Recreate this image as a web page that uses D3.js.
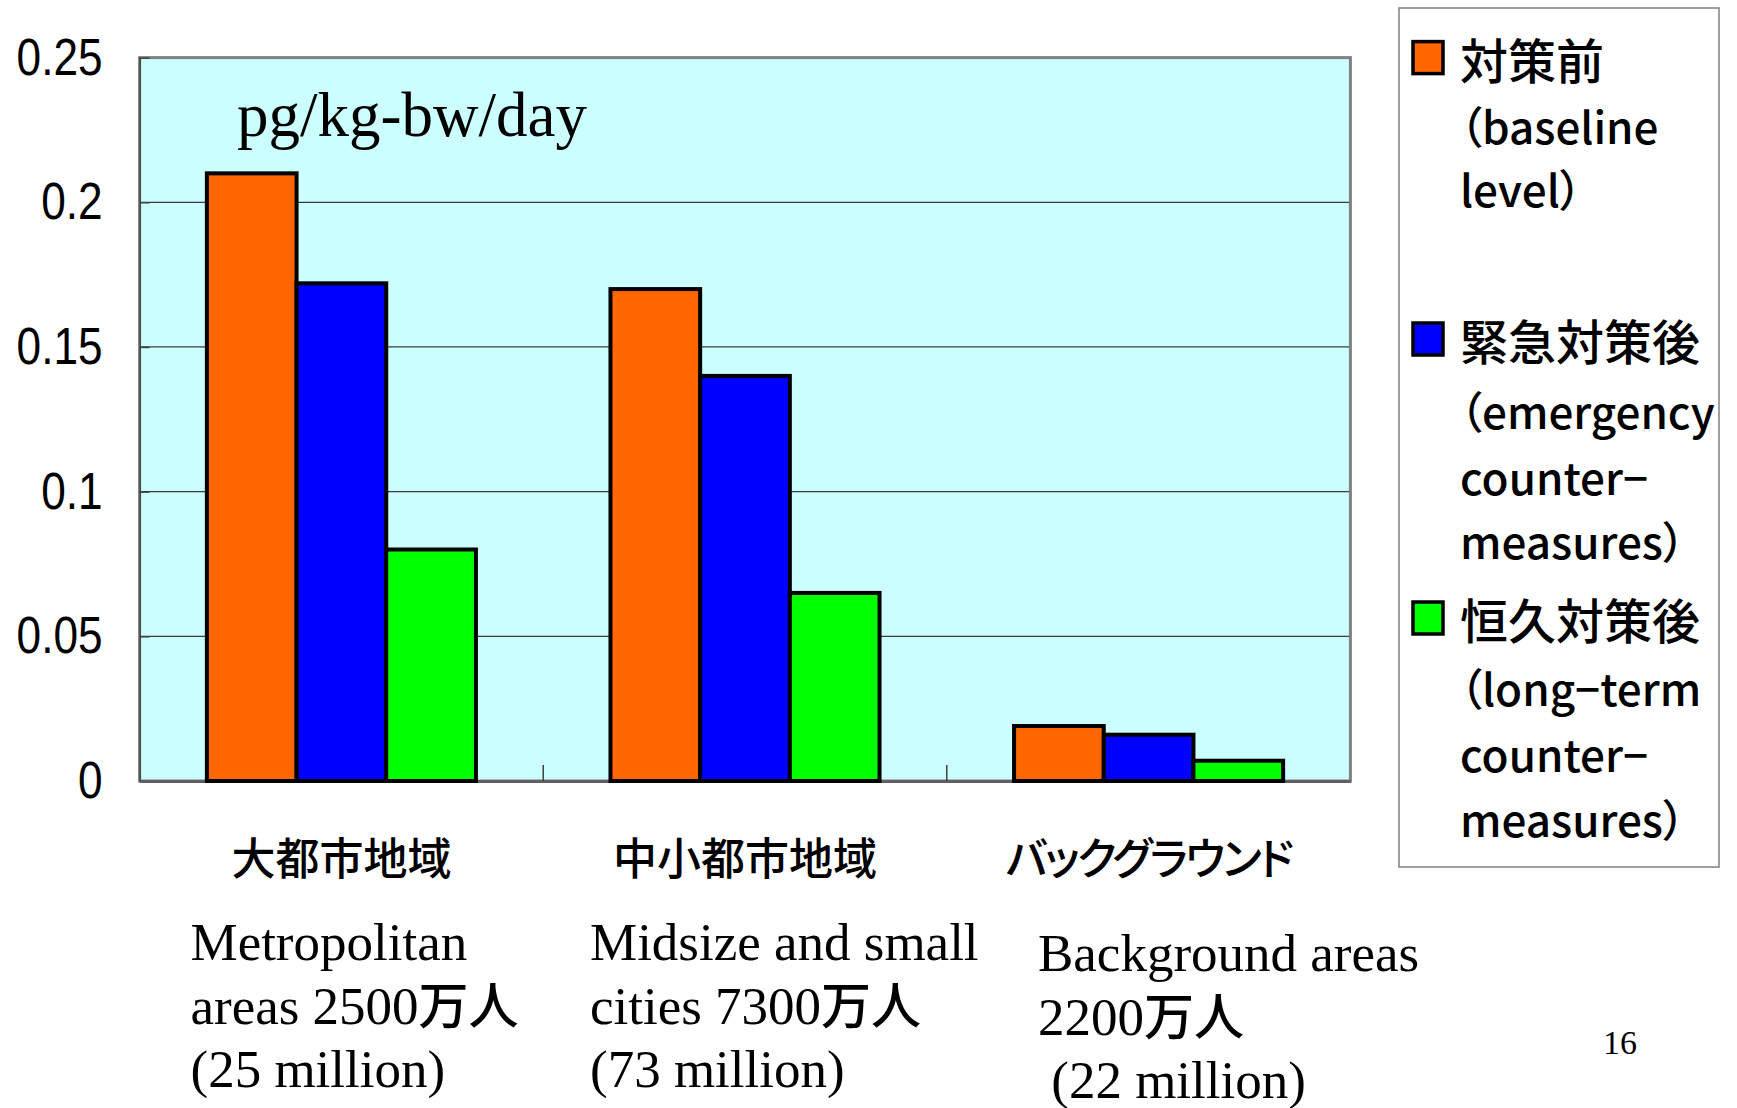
<!DOCTYPE html>
<html>
<head>
<meta charset="utf-8">
<script src="https://cdn.jsdelivr.net/npm/d3@7"></script>
<style>
  html, body { margin: 0; padding: 0; background: #fff; }
  svg { display: block; }
</style>
</head>
<body>
<svg id="chart" width="1737" height="1108"></svg>
<script>
// Daily intake by area type, pg/kg-bw/day
const categories = ["大都市地域", "中小都市地域", "バックグラウンド"];
const seriesKeys = ["baseline", "emergency", "longTerm"];
const seriesColors = ["#FF6600", "#0000FF", "#00FF00"];
const baselineValues  = [0.21, 0.17, 0.019];
const emergencyValues = [0.172, 0.14, 0.016];
const longTermValues  = [0.08, 0.065, 0.007];
const yTickValues = [0, 0.05, 0.1, 0.15, 0.2, 0.25];
const yTickLabels = ["0", "0.05", "0.1", "0.15", "0.2", "0.25"];
const unitLabel = "pg/kg-bw/day";

// Legend: one swatch per series with wrapped text lines
const legendEntries = [
  ["対策前", "（baseline", "level）"],
  ["緊急対策後", "（emergency", "counter−", "measures）"],
  ["恒久対策後", "（long−term", "counter−", "measures）"]
];

// English descriptions under each category (main text, CJK suffix)
const categoryNotes = [
  [["Metropolitan", ""], ["areas 2500", "万人"], ["(25 million)", ""]],
  [["Midsize and small", ""], ["cities 7300", "万人"], ["(73 million)", ""]],
  [["Background areas", ""], ["2200", "万人"], ["\u00a0(22 million)", ""]]
];
const pageNumber = "16";

const seriesValues = [baselineValues, emergencyValues, longTermValues];
const table = categories.map((c, i) => ({
  category: c,
  values: seriesKeys.map((k, j) => ({ key: k, value: seriesValues[j][i], color: seriesColors[j] }))
}));

const svg = d3.select("#chart");
const plot = { left: 139.6, right: 1350.4, top: 57.6, bottom: 781 };
const W = plot.right - plot.left, H = plot.bottom - plot.top;

const x = d3.scaleBand().domain(categories).range([plot.left, plot.right])
  .paddingInner(1 / 3).paddingOuter(1 / 6);
const xs = d3.scaleBand().domain(seriesKeys).range([0, x.bandwidth()]);
const y = d3.scaleLinear().domain([0, 0.25]).range([plot.bottom, plot.top]);

// plot area background
svg.append("rect")
  .attr("x", plot.left).attr("y", plot.top).attr("width", W).attr("height", H)
  .attr("fill", "#CCFFFF");

// horizontal gridlines
svg.append("g").selectAll("line").data(yTickValues.filter(v => v > 0 && v < 0.25)).join("line")
  .attr("x1", plot.left).attr("x2", plot.right)
  .attr("y1", d => y(d)).attr("y2", d => y(d))
  .attr("stroke", "#3a3a3a").attr("stroke-width", 1.2);

// frame
svg.append("rect")
  .attr("x", plot.left).attr("y", plot.top).attr("width", W).attr("height", H)
  .attr("fill", "none").attr("stroke", "#808080").attr("stroke-width", 3);

// y axis
const yAxis = d3.axisLeft(y)
  .tickValues(yTickValues)
  .tickFormat((d, i) => yTickLabels[i])
  .tickSizeInner(-10).tickSizeOuter(0).tickPadding(37);
const gy = svg.append("g").attr("transform", `translate(${plot.left},0)`).call(yAxis);
gy.select(".domain").attr("stroke", "#404040").attr("stroke-width", 1.5);
gy.selectAll(".tick line").attr("stroke", "#404040").attr("stroke-width", 1.5);
gy.selectAll(".tick text")
  .attr("font-family", "'Liberation Sans', Arial, sans-serif")
  .attr("font-size", 52).attr("fill", "#000")
  .each(function () {
    const t = d3.select(this);
    const tx = +t.attr("x");
    t.attr("x", 0).attr("transform", `translate(${tx},0) scale(0.85,1)`);
  });

// x axis: baseline plus small ticks between categories
const xAxis = d3.axisBottom(x).tickSize(0).tickFormat("");
const gx = svg.append("g").attr("transform", `translate(0,${plot.bottom})`).call(xAxis);
gx.select(".domain").attr("stroke", "#606060").attr("stroke-width", 3);
const boundaries = categories.slice(1).map(c => x(c) - x.step() * x.paddingInner() / 2);
svg.append("g").selectAll("line").data(boundaries).join("line")
  .attr("x1", d => d).attr("x2", d => d)
  .attr("y1", plot.bottom).attr("y2", plot.bottom - 16)
  .attr("stroke", "#404040").attr("stroke-width", 1.5);

// bars
const groups = svg.append("g").selectAll("g").data(table).join("g")
  .attr("transform", d => `translate(${x(d.category)},0)`);
groups.selectAll("rect").data(d => d.values).join("rect")
  .attr("x", d => xs(d.key))
  .attr("y", d => y(d.value))
  .attr("width", xs.bandwidth())
  .attr("height", d => y(0) - y(d.value))
  .attr("fill", d => d.color)
  .attr("stroke", "#000").attr("stroke-width", 4);

// unit label
svg.append("text")
  .attr("x", 237).attr("y", 136)
  .attr("font-family", "'Liberation Serif', 'Times New Roman', serif")
  .attr("font-size", 63).attr("fill", "#000")
  .text(unitLabel);

// Japanese category labels
svg.append("g").selectAll("text").data(categories).join("text")
  .attr("x", d => x(d) + x.bandwidth() / 2)
  .attr("y", 856)
  .attr("text-anchor", "middle").attr("dominant-baseline", "central")
  .attr("font-family", "'Noto Sans CJK JP', sans-serif")
  .attr("font-size", 44).attr("font-weight", 500)
  .attr("letter-spacing", (d, i) => i === 2 ? -2.5 : 0)
  .style("font-feature-settings", "'palt'")
  .attr("fill", "#000")
  .text(d => d);

// English notes below each category
const noteX = [190.5, 590, 1038];
const noteBase = [960, 960, 971];
categoryNotes.forEach((lines, i) => {
  const t = svg.append("text")
    .attr("font-family", "'Liberation Serif', 'Times New Roman', serif")
    .attr("font-size", 53).attr("fill", "#000");
  lines.forEach((ln, k) => {
    t.append("tspan").attr("x", noteX[i]).attr("y", noteBase[i] + k * 63.6).text(ln[0]);
    if (ln[1]) {
      t.append("tspan")
        .attr("font-family", "'Noto Sans CJK JP', sans-serif")
        .attr("font-weight", 500).attr("font-size", 50)
        .text(ln[1]);
    }
  });
});

// page number
svg.append("text")
  .attr("x", 1603).attr("y", 1054)
  .attr("font-family", "'Liberation Serif', 'Times New Roman', serif")
  .attr("font-size", 34).attr("fill", "#000")
  .text(pageNumber);

// legend
const legend = svg.append("g");
legend.append("rect")
  .attr("x", 1399).attr("y", 8).attr("width", 320).attr("height", 859)
  .attr("fill", "#fff").attr("stroke", "#808080").attr("stroke-width", 1.5);
const entryLineY = [[57.6, 125, 188], [339, 410, 476, 539.5], [618, 687, 753, 817.5]];
legendEntries.forEach((lines, i) => {
  legend.append("rect")
    .attr("x", 1413).attr("y", entryLineY[i][0] - 16).attr("width", 30).attr("height", 32)
    .attr("fill", seriesColors[i]).attr("stroke", "#000").attr("stroke-width", 3.5);
  legend.append("g").selectAll("text").data(lines).join("text")
    .attr("x", 1460)
    .attr("y", (d, k) => entryLineY[i][k])
    .attr("dominant-baseline", "central")
    .attr("font-family", "'Noto Sans CJK JP', sans-serif")
    .attr("font-size", (d, k) => k === 0 ? 48 : 44)
    .attr("font-weight", 500)
    .style("font-feature-settings", "'palt'")
    .attr("fill", "#000")
    .text(d => d);
});
</script>
</body>
</html>
